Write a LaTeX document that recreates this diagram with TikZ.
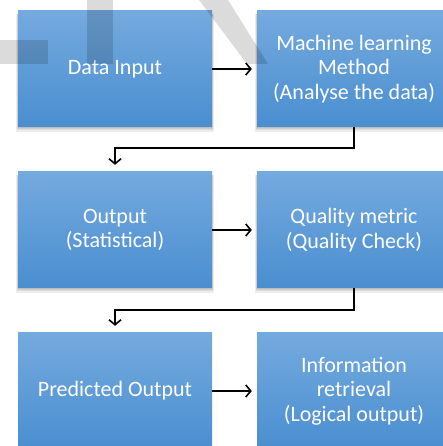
\documentclass[tikz,border=0pt]{standalone}
\usepackage{fontspec}
\setmainfont{Carlito}
\usetikzlibrary{arrows.meta}

\definecolor{boxtop}{RGB}{116,170,222}
\definecolor{boxbot}{RGB}{74,142,208}

\tikzset{
  stagebox/.style={
    rectangle, minimum width=194pt, minimum height=116pt,
    top color=boxtop, bottom color=boxbot, draw=none,
    text=white, align=center,
    font=\fontsize{22}{24.5}\selectfont
  },
  softshadow/.style={fill=black, fill opacity=0.07, draw=none},
  flow/.style={
    line width=1.6pt, black,
    -{Straight Barb[length=5pt,width=12pt,line width=1.6pt]},
    shorten >=5pt
  },
  mark overlay/.style={fill=black, fill opacity=0.14, draw=none}
}

% soft shadow under a stage box centred at (#1,#2)
\newcommand\stageshadow[2]{%
  \foreach \g in {0,1,2,3}{
    \fill[softshadow] (#1-97-\g*0.6, #2+58-3) rectangle (#1+97+\g*0.6, #2-58-1-\g*1.2);
  }%
}

\begin{document}
\begin{tikzpicture}[x=1pt,y=1pt]
  \useasboundingbox (0,0) rectangle (443,446);
  \clip (0,0) rectangle (443,446);

  % shadows
  \stageshadow{115}{377}
  \stageshadow{354}{377}
  \stageshadow{115}{216}
  \stageshadow{354}{216}

  % process stages
  \node[stagebox] (input)   at (115,377) {Data Input};
  \node[stagebox] (ml)      at (354,377) {Machine learning\\Method\\(Analyse the data)};
  \node[stagebox] (stat)    at (115,216) {Output\\(Statistical)};
  \node[stagebox] (quality) at (354,216) {Quality metric\\(Quality Check)};
  \node[stagebox] (pred)    at (115,55)  {Predicted Output};
  \node[stagebox] (info)    at (354,55)  {Information\\retrieval\\(Logical output)};

  % horizontal links
  \draw[flow] (input.east) -- (ml.west);
  \draw[flow] (stat.east) -- (quality.west);
  \draw[flow] (pred.east) -- (info.west);

  % links down to the next row
  \draw[flow, shorten >=7pt] (ml.south) -- ++(0,-21) -| (stat.north);
  \draw[flow, shorten >=7pt] (quality.south) -- ++(0,-22) -| (pred.north);

  % translucent overlay marks
  \fill[mark overlay] (0,382) rectangle (48,406);
  \fill[mark overlay] (87,382) rectangle (113,446);
  \fill[mark overlay] (199,446) -- (228,446) -- (268,382) -- (247,382) -- cycle;
\end{tikzpicture}
\end{document}
